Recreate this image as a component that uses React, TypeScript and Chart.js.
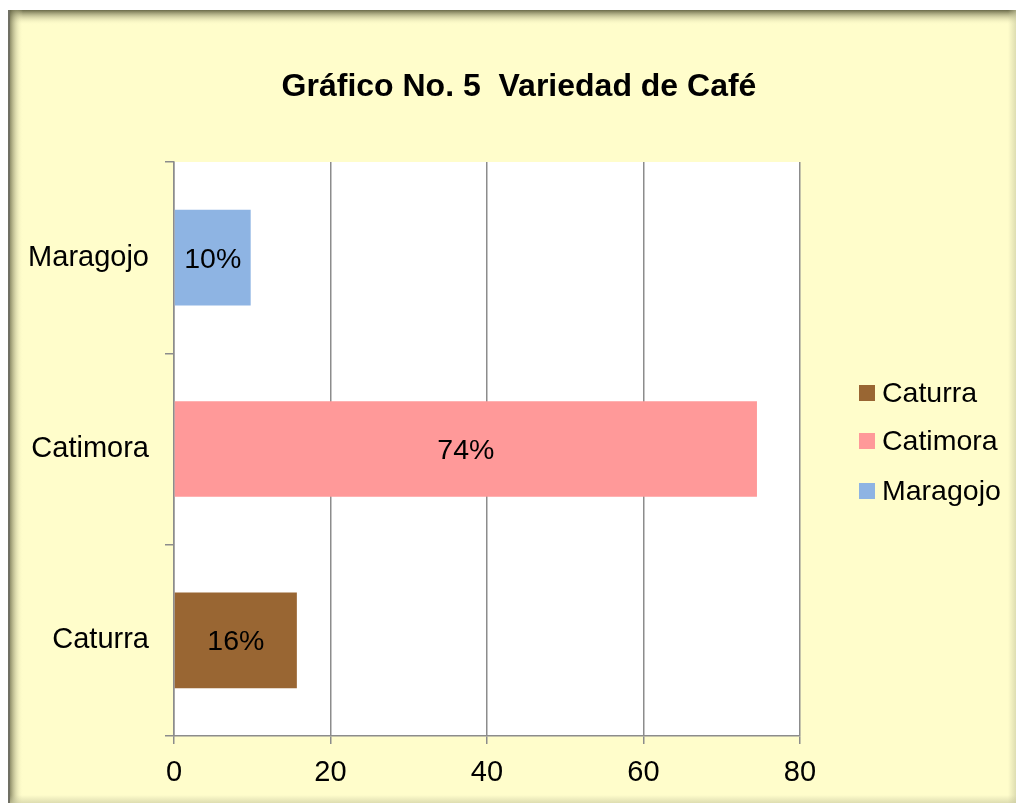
import React, { useEffect, useRef } from "react";
import { Chart, registerables } from "chart.js";

Chart.register(...registerables);

const categories = ["Caturra", "Catimora", "Maragojo"];
const values = [15.7, 74.5, 9.8];
const pctLabels = ["16%", "74%", "10%"];
const barColors = ["#996633", "#FF9999", "#8EB4E3"];
const xTicks = [0, 20, 40, 60, 80];
const titleText = "Gráfico No. 5  Variedad de Café";

const FONT = '"Liberation Sans", Arial, sans-serif';
const W = 1018;
const H = 806;

const framePlugin = {
  id: "frame",
  beforeDraw(chart: any) {
    const ctx = chart.ctx;
    const x0 = 8, y0 = 10, x1 = 1016, y1 = 803;
    ctx.save();
    ctx.fillStyle = "#ffffff";
    ctx.fillRect(0, 0, W, H);
    ctx.fillStyle = "#FFFDCB";
    ctx.fillRect(x0, y0, x1 - x0, y1 - y0);
    // top shadow
    let g = ctx.createLinearGradient(0, y0, 0, y0 + 15);
    g.addColorStop(0, "rgba(80,80,50,0.85)");
    g.addColorStop(1, "rgba(255,253,203,0)");
    ctx.fillStyle = g;
    ctx.fillRect(x0, y0, x1 - x0, 15);
    // left shadow
    g = ctx.createLinearGradient(x0, 0, x0 + 15, 0);
    g.addColorStop(0, "rgba(80,80,50,0.85)");
    g.addColorStop(1, "rgba(255,253,203,0)");
    ctx.fillStyle = g;
    ctx.fillRect(x0, y0, 15, y1 - y0);
    // right shading
    g = ctx.createLinearGradient(x1 - 8, 0, x1, 0);
    g.addColorStop(0, "rgba(200,200,160,0)");
    g.addColorStop(1, "rgba(200,200,160,0.6)");
    ctx.fillStyle = g;
    ctx.fillRect(x1 - 8, y0, 8, y1 - y0);
    // bottom shading
    g = ctx.createLinearGradient(0, y1 - 8, 0, y1);
    g.addColorStop(0, "rgba(200,200,160,0)");
    g.addColorStop(1, "rgba(200,200,160,0.6)");
    ctx.fillStyle = g;
    ctx.fillRect(x0, y1 - 8, x1 - x0, 8);
    // left dark line
    ctx.fillStyle = "#707064";
    ctx.fillRect(x0, y0, 2, y1 - y0);
    // plot area white
    const a = chart.chartArea;
    ctx.fillStyle = "#ffffff";
    ctx.fillRect(a.left, a.top, a.right - a.left, a.bottom - a.top);
    ctx.restore();
  },
  afterDraw(chart: any) {
    const ctx = chart.ctx;
    ctx.save();
    // title
    ctx.fillStyle = "#000000";
    ctx.font = `bold 32px ${FONT}`;
    ctx.textAlign = "center";
    ctx.textBaseline = "middle";
    ctx.fillText(titleText, 519, 87);
    // legend
    ctx.font = `28.5px ${FONT}`;
    ctx.textAlign = "left";
    const rows = [393, 441, 491];
    categories.forEach((c, i) => {
      ctx.fillStyle = barColors[i];
      ctx.fillRect(859, rows[i] - 8, 16, 16);
      ctx.fillStyle = "#000000";
      ctx.fillText(c, 882, rows[i] + 1);
    });
    ctx.restore();
  },
};

const dataLabelPlugin = {
  id: "dataLabels",
  afterDatasetsDraw(chart: any) {
    const ctx = chart.ctx;
    const meta = chart.getDatasetMeta(0);
    ctx.save();
    ctx.font = `28.5px ${FONT}`;
    ctx.fillStyle = "#000000";
    ctx.textAlign = "center";
    ctx.textBaseline = "middle";
    meta.data.forEach((bar: any, i: number) => {
      ctx.fillText(pctLabels[i], (bar.x + bar.base) / 2, bar.y + 2);
    });
    ctx.restore();
  },
};

export default function App() {
  const ref = useRef<HTMLCanvasElement>(null);
  useEffect(() => {
    if (!ref.current) return;
    const chart = new Chart(ref.current, {
      type: "bar",
      data: {
        labels: categories,
        datasets: [
          {
            data: values,
            backgroundColor: barColors,
            borderWidth: 0,
            barPercentage: 0.5,
            categoryPercentage: 1,
          },
        ],
      },
      options: {
        indexAxis: "y",
        responsive: false,
        animation: false,
        layout: { padding: { top: 162, right: 218, bottom: 0, left: 0 } },
        plugins: {
          legend: { display: false },
          title: { display: false },
          tooltip: { enabled: false },
        },
        scales: {
          x: {
            min: 0,
            max: 80,
            afterFit: (s: any) => {
              s.height = 70;
            },
            afterBuildTicks: (s: any) => {
              s.ticks = xTicks.map((v) => ({ value: v }));
            },
            ticks: {
              color: "#000000",
              font: { family: FONT, size: 29 },
              padding: 12,
            },
            grid: {
              color: "#8c8c8c",
              lineWidth: 1.5,
              tickLength: 8,
              drawTicks: true,
            },
            border: { display: true, color: "#8c8c8c", width: 1.5 },
          },
          y: {
            reverse: true,
            afterFit: (s: any) => {
              s.width = 174;
            },
            ticks: {
              color: "#000000",
              font: { family: FONT, size: 29 },
              padding: 16,
            },
            grid: {
              offset: true,
              drawOnChartArea: false,
              color: "#8c8c8c",
              lineWidth: 1.5,
              tickLength: 9,
            },
            border: { display: true, color: "#8c8c8c", width: 1.5 },
          },
        },
      },
      plugins: [framePlugin, dataLabelPlugin],
    });
    return () => chart.destroy();
  }, []);
  return (
    <canvas
      ref={ref}
      width={W}
      height={H}
      style={{ position: "absolute", left: 0, top: 0, width: W, height: H }}
    />
  );
}
